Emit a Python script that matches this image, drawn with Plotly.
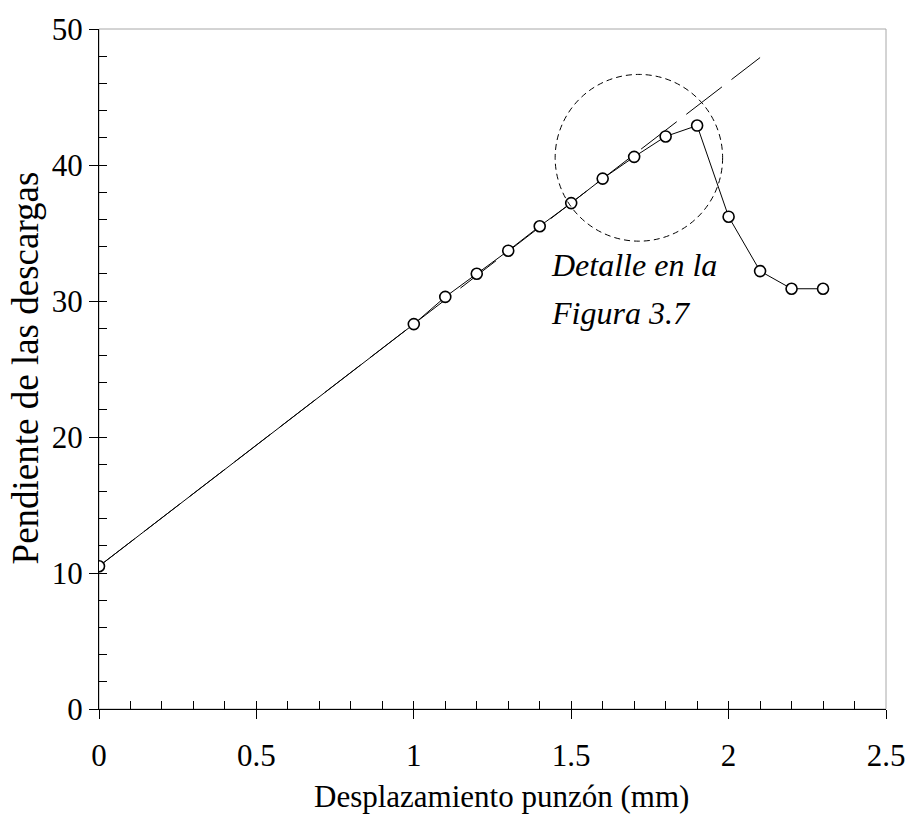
import plotly.graph_objects as go

# ---- data ----
desplazamiento = [0.0, 1.0, 1.1, 1.2, 1.3, 1.4, 1.5, 1.6, 1.7, 1.8, 1.9, 2.0, 2.1, 2.2, 2.3]
pendiente = [10.5, 28.3, 30.3, 32.0, 33.7, 35.5, 37.2, 39.0, 40.6, 42.1, 42.9, 36.2, 32.2, 30.9, 30.9]
ajuste_x = [0.0, 2.1]
ajuste_y = [10.5, 47.9]
x_ticks = [0, 0.5, 1, 1.5, 2, 2.5]
x_tick_labels = ["0", "0.5", "1", "1.5", "2", "2.5"]
y_ticks = [0, 10, 20, 30, 40, 50]
y_tick_labels = ["0", "10", "20", "30", "40", "50"]

FONT = "Liberation Serif, Times New Roman, serif"
X_RANGE = [0, 2.5]
Y_RANGE = [0, 50]

fig = go.Figure()

# fitted straight line (long dashes)
fig.add_trace(go.Scatter(
    x=ajuste_x, y=ajuste_y, mode="lines",
    line=dict(color="black", width=1, dash="45px,12px"),
    hoverinfo="skip", showlegend=False))

# measured data
fig.add_trace(go.Scatter(
    x=desplazamiento, y=pendiente, mode="lines+markers",
    line=dict(color="black", width=1),
    marker=dict(symbol="circle", size=11, color="white",
                line=dict(color="black", width=1.6)),
    showlegend=False))

# dummy trace to activate the inner-tick overlay axes
fig.add_trace(go.Scatter(x=[0], y=[0], xaxis="x2", yaxis="y2", mode="markers",
                         marker=dict(opacity=0), hoverinfo="skip", showlegend=False))

fig.update_layout(
    width=917, height=819,
    margin=dict(l=99, r=25, t=24, b=110),
    paper_bgcolor="white", plot_bgcolor="white",
    font=dict(family=FONT, size=31, color="black"),
    xaxis=dict(range=X_RANGE, tickvals=x_ticks, ticktext=x_tick_labels,
               ticks="outside", ticklen=9, tickwidth=1, tickcolor="black",
               showline=True, linecolor="black", linewidth=1,
               showgrid=False, zeroline=False, ticklabelstandoff=10,
               tickfont=dict(size=31)),
    yaxis=dict(range=Y_RANGE, tickvals=y_ticks, ticktext=y_tick_labels,
               ticks="outside", ticklen=9, tickwidth=1, tickcolor="black",
               showline=True, linecolor="black", linewidth=1,
               showgrid=False, zeroline=False,
               tickfont=dict(size=31)),
    xaxis2=dict(range=X_RANGE, overlaying="x", side="bottom", dtick=0.1, tick0=0,
                ticks="inside", ticklen=8, tickwidth=1, tickcolor="black",
                showticklabels=False, showgrid=False, zeroline=False, showline=False),
    yaxis2=dict(range=Y_RANGE, overlaying="y", side="left", dtick=2, tick0=0,
                ticks="inside", ticklen=8, tickwidth=1, tickcolor="black",
                showticklabels=False, showgrid=False, zeroline=False, showline=False),
    shapes=[
        dict(type="rect", xref="paper", yref="paper", x0=0, x1=1, y0=0, y1=1,
             line=dict(color="#a8a8a8", width=1), layer="below"),
        dict(type="circle", xref="x", yref="y", x0=1.449, x1=1.981, y0=34.4, y1=46.66,
             line=dict(color="black", width=1, dash="6px,4px")),
    ],
    annotations=[
        dict(text="<i>Detalle en la</i>", x=1.428, y=32.65, xref="x", yref="y",
             xanchor="left", yanchor="middle", showarrow=False,
             font=dict(family=FONT, size=32, color="black")),
        dict(text="<i>Figura 3.7</i>", x=1.428, y=29.1, xref="x", yref="y",
             xanchor="left", yanchor="middle", showarrow=False,
             font=dict(family=FONT, size=32, color="black")),
        dict(text="Desplazamiento punzón (mm)", x=0.512, y=-0.128, xref="paper", yref="paper",
             xanchor="center", yanchor="middle", showarrow=False,
             font=dict(family=FONT, size=31, color="black")),
        dict(text="Pendiente de las descargas", x=-0.093, y=0.502, xref="paper", yref="paper",
             xanchor="center", yanchor="middle", showarrow=False, textangle=-90,
             font=dict(family=FONT, size=37, color="black")),
    ],
)

fig.write_html("out.html")
